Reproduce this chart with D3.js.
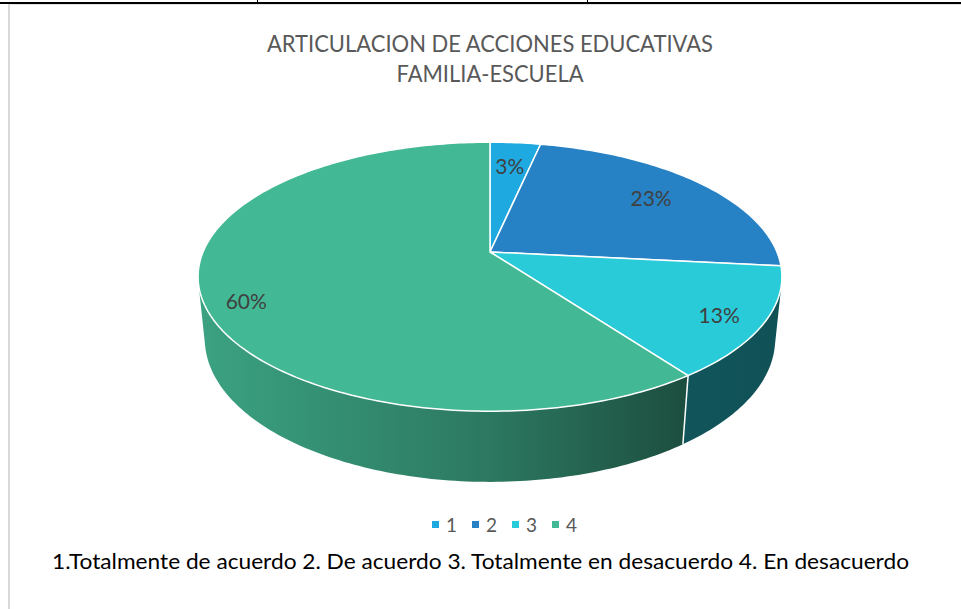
<!DOCTYPE html>
<html>
<head>
<meta charset="utf-8">
<script src="https://cdn.jsdelivr.net/npm/d3@7"></script>
<style>
  body { margin: 0; background: #fff; }
  svg { display: block; }
  text { font-family: Lato, "Liberation Sans", sans-serif; }
</style>
</head>
<body>
<script>
// data (counts that give 3% / 23% / 13% / 60%)
var categories = ["1", "2", "3", "4"]
var values = [1, 7, 4, 18]
var colors = ["#1eaae0", "#2781c5", "#29cbd8", "#43b894"]
var titleLines = ["ARTICULACION DE ACCIONES EDUCATIVAS", "FAMILIA-ESCUELA"]
var footnote = "1.Totalmente de acuerdo 2. De acuerdo 3. Totalmente en desacuerdo 4. En desacuerdo"

var width = 961, height = 609

var svg = d3.select("body").append("svg")
  .attr("width", width)
  .attr("height", height)

// page frame bits
svg.append("rect").attr("x", 0).attr("y", 2).attr("width", width).attr("height", 2).attr("fill", "#000")
svg.append("rect").attr("x", 257).attr("y", 0).attr("width", 1).attr("height", 3).attr("fill", "#000")
svg.append("rect").attr("x", 587).attr("y", 0).attr("width", 1).attr("height", 3).attr("fill", "#000")
svg.append("rect").attr("x", 8).attr("y", 4).attr("width", width - 8).attr("height", 1).attr("fill", "#e3e3e3")
svg.append("rect").attr("x", 8).attr("y", 4).attr("width", 2).attr("height", height).attr("fill", "#d9d9d9")

// title
svg.selectAll(".title")
  .data(titleLines)
  .enter()
  .append("text")
    .attr("class", "title")
    .attr("x", 490)
    .attr("y", function (d, i) { return 52 + i * 30 })
    .attr("text-anchor", "middle")
    .attr("textLength", function (d, i) { return i == 0 ? 446 : 187 })
    .attr("lengthAdjust", "spacingAndGlyphs")
    .style("font-size", "24px")
    .style("fill", "#595959")
    .text(function (d) { return d })

// 3d pie with perspective
var cx = 490, cy = 252
var f = 1393, R = 0.206, h = 0.0507, D = 1
var phi = Math.asin(0.453)

function proj(theta, Y, k) {
  k = k == null ? 1 : k
  var X = k * R * Math.sin(theta)
  var Z = -k * R * Math.cos(theta)
  var u = Y * Math.cos(phi) - Z * Math.sin(phi)
  var d = D - (Z * Math.cos(phi) + Y * Math.sin(phi))
  return [cx + f * X / d, cy - f * u / d]
}

function arcPts(a0, a1, Y) {
  var n = Math.max(2, Math.ceil(Math.abs(a1 - a0) / (Math.PI / 180)))
  var pts = []
  for (var i = 0; i <= n; i++) pts.push(proj(a0 + (a1 - a0) * i / n, Y))
  return pts
}

var pie = d3.pie().sort(null).value(function (d) { return d })
var arcs = pie(values)
var total = d3.sum(values)

// side shading, darker to the right
var shadeX = [198, 490, 690, 782]
var shadeK = [0.88, 0.65, 0.42, 0.40]
var defs = svg.append("defs")
colors.forEach(function (c, i) {
  var g = defs.append("linearGradient")
    .attr("id", "side" + i)
    .attr("gradientUnits", "userSpaceOnUse")
    .attr("x1", shadeX[0]).attr("x2", shadeX[shadeX.length - 1])
    .attr("y1", 0).attr("y2", 0)
  shadeX.forEach(function (x, j) {
    var col = d3.rgb(c)
    var k = shadeK[j]
    g.append("stop")
      .attr("offset", (x - shadeX[0]) / (shadeX[shadeX.length - 1] - shadeX[0]))
      .attr("stop-color", d3.rgb(col.r * k, col.g * k, col.b * k).formatHex())
  })
})

var alpha = Math.acos(R / (D * Math.cos(phi)))
var vMin = Math.PI - alpha, vMax = Math.PI + alpha
var line = d3.line()

var sides = svg.append("g")
arcs.forEach(function (a, i) {
  var s0 = Math.max(a.startAngle, vMin), s1 = Math.min(a.endAngle, vMax)
  if (s0 >= s1) return
  var pts = arcPts(s0, s1, 0).concat(arcPts(s1, s0, -h))
  sides.append("path")
    .attr("d", line(pts) + "Z")
    .attr("fill", "url(#side" + i + ")")
})
arcs.forEach(function (a) {
  var t = a.startAngle
  if (t > vMin && t < vMax) {
    sides.append("path")
      .attr("d", line([proj(t, 0), proj(t, -h)]))
      .attr("stroke", "#fff")
      .attr("stroke-width", 1.5)
  }
})

var tops = svg.append("g")
arcs.forEach(function (a, i) {
  var pts = [proj(0, 0, 0)].concat(arcPts(a.startAngle, a.endAngle, 0))
  tops.append("path")
    .attr("d", line(pts) + "Z")
    .attr("fill", colors[i])
    .attr("stroke", "#fff")
    .attr("stroke-width", 1.5)
    .attr("stroke-linejoin", "round")
})

// data labels
var labelK = [0.75, 0.75, 0.85, 0.85]
var labelDy = [0, 0, 4, 14]
arcs.forEach(function (a, i) {
  var p = proj((a.startAngle + a.endAngle) / 2, 0, labelK[i])
  svg.append("text")
    .attr("x", p[0])
    .attr("y", p[1] + labelDy[i] + 7)
    .attr("text-anchor", "middle")
    .style("font-size", "21px")
    .style("fill", "#404040")
    .text(Math.round(a.value / total * 100) + "%")
})

// legend
var legend = svg.append("g").selectAll("g")
  .data(categories)
  .enter()
  .append("g")
    .attr("transform", function (d, i) { return "translate(" + (432 + i * 40) + ",0)" })
legend.append("rect")
  .attr("x", 0).attr("y", 521)
  .attr("width", 7).attr("height", 7)
  .attr("fill", function (d, i) { return colors[i] })
legend.append("text")
  .attr("x", 14).attr("y", 532)
  .style("font-size", "19px")
  .style("fill", "#595959")
  .text(function (d) { return d })

// footnote
svg.append("text")
  .attr("x", 52)
  .attr("y", 569)
  .attr("textLength", 857)
  .attr("lengthAdjust", "spacingAndGlyphs")
  .style("font-size", "21px")
  .style("fill", "#000")
  .text(footnote)
</script>
</body>
</html>
